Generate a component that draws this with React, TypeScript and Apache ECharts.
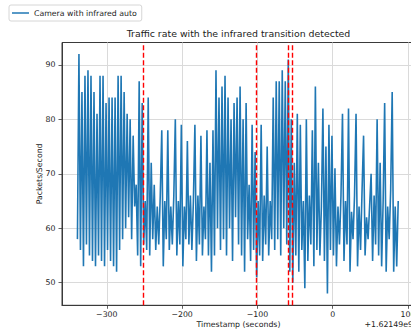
import React, { useEffect, useRef } from "react";
import * as echarts from "echarts";

// Sampling of the capture (seconds relative to the offset shown at the axis end)
const START_TIME = -339;
const STEP = 2;
const TIME_OFFSET_LABEL = "+1.62149e9";

// Packets/second, split by phase of the capture
const dayPhaseStart = [
  58, 92, 56, 85, 53, 88, 57, 89, 55, 88, 54, 85, 53, 81, 55, 88, 54, 88, 53, 83,
  56, 84, 54, 84, 53, 84, 52, 88, 56, 88, 58, 85, 60, 81, 62, 80, 58, 77, 64, 68,
  55, 87, 53,
];
const nightPhaseOne = [
  83, 57, 65, 56, 84, 55, 72, 58, 68, 56, 64, 57, 66, 78, 53, 65, 58, 78, 56, 64,
  57, 66, 80, 55, 65, 57, 79, 53, 64, 58, 76, 57, 66, 56, 65, 79, 54, 66, 57, 77,
  55, 64, 58, 78, 55, 72,
];
const dayPhaseTwo = [
  52, 78, 55, 89, 60, 84, 56, 86, 58, 88, 55, 84, 60, 80, 54, 83, 62, 84, 57, 86,
  55, 80, 52, 83, 58, 68, 54, 79, 56, 74,
];
const nightPhaseTwo = [51, 65, 55, 79, 54, 66, 57, 75, 55, 65];
const dayPhaseThree = [58, 84, 56, 87, 58, 87, 55, 89, 60, 87, 57, 91, 52, 80, 50, 72];
const nightPhaseThree = [
  55, 81, 52, 79, 56, 65, 49, 80, 54, 66, 57, 78, 53, 86, 56, 72, 55, 64, 82, 54,
  75, 48, 79, 56, 77, 55, 71, 53, 64, 57, 66, 81, 54, 65, 57, 82, 52, 63, 58, 66,
  81, 53, 64, 56, 67, 77, 55, 62, 58, 64, 70, 54, 66, 57, 80, 55, 72, 53, 65, 83,
  52, 64, 58, 67, 85, 52, 64, 53, 65,
];

// Detected infrared transitions (seconds)
const transitions = [-251, -101.3, -59.3, -54];

const xTickValues = [-300, -200, -100, 0, 100];
const yTickValues = [50, 60, 70, 80, 90];

const SERIES_NAME = "Camera with infrared auto";
const TITLE = "Traffic rate with the infrared transition detected";

const FONT = "DejaVu Sans";
const BLUE = "#1f77b4";
const SPINE = "#3a3a3a";

const packetRate = [
  ...dayPhaseStart,
  ...nightPhaseOne,
  ...dayPhaseTwo,
  ...nightPhaseTwo,
  ...dayPhaseThree,
  ...nightPhaseThree,
];

const fmt = (v: number) => (v < 0 ? "\u2212" + String(-v) : String(v));

export default function App() {
  const ref = useRef<HTMLDivElement>(null);

  useEffect(() => {
    if (!ref.current) return;
    const chart = echarts.init(ref.current, undefined, { renderer: "svg" });

    const points = packetRate.map((v, i) => [START_TIME + i * STEP, v]);

    chart.setOption({
      animation: false,
      backgroundColor: "#ffffff",
      textStyle: { fontFamily: FONT },
      grid: {
        left: 62,
        top: 42.5,
        width: 353,
        height: 262.8,
        show: true,
        borderColor: SPINE,
        borderWidth: 1,
        containLabel: false,
        outerBoundsMode: "none",
      },
      legend: {
        left: 9,
        top: 5,
        icon: "rect",
        itemWidth: 17,
        itemHeight: 1.5,
        padding: [4, 5, 4, 3],
        borderColor: "#cccccc",
        borderWidth: 0.8,
        borderRadius: 2,
        backgroundColor: "#ffffff",
        textStyle: { fontFamily: FONT, fontSize: 7.8, color: "#222" },
        data: [SERIES_NAME],
      },
      xAxis: {
        type: "value",
        min: -359.5,
        max: 109.3,
        name: "Timestamp (seconds)",
        nameLocation: "middle",
        nameGap: 15,
        nameMoveOverlap: false,
        nameTextStyle: { fontFamily: FONT, fontSize: 7.8, color: "#222" },
        axisLine: { show: true, onZero: false, lineStyle: { color: SPINE, width: 1 } },
        axisTick: {
          show: true,
          length: 3.5,
          customValues: xTickValues,
          lineStyle: { color: SPINE, width: 0.8 },
        },
        axisLabel: {
          customValues: xTickValues,
          formatter: (v: number) => fmt(v),
          fontFamily: FONT,
          fontSize: 7.8,
          color: "#222",
          margin: 5,
        },
        splitLine: { show: true, lineStyle: { color: "#dadada", width: 1 } },
      },
      yAxis: {
        type: "value",
        min: 45.85,
        max: 94.1,
        name: "Packets/Second",
        nameLocation: "middle",
        nameGap: 19,
        nameMoveOverlap: false,
        nameTextStyle: { fontFamily: FONT, fontSize: 7.8, color: "#222" },
        axisLine: { show: true, onZero: false, lineStyle: { color: SPINE, width: 1 } },
        axisTick: {
          show: true,
          length: 3.5,
          customValues: yTickValues,
          lineStyle: { color: SPINE, width: 0.8 },
        },
        axisLabel: {
          customValues: yTickValues,
          formatter: (v: number) => fmt(v),
          fontFamily: FONT,
          fontSize: 7.8,
          color: "#222",
          margin: 6.5,
        },
        splitLine: { show: true, lineStyle: { color: "#dadada", width: 1 } },
      },
      graphic: [
        {
          type: "text",
          x: 238.5,
          y: 33.5,
          style: {
            text: TITLE,
            fontFamily: FONT,
            fontSize: 9.4,
            fill: "#222",
            align: "center",
            verticalAlign: "middle",
          },
        },
        {
          type: "text",
          x: 413,
          y: 324,
          style: {
            text: TIME_OFFSET_LABEL,
            fontFamily: FONT,
            fontSize: 7.8,
            fill: "#222",
            align: "right",
            verticalAlign: "middle",
          },
        },
      ],
      series: [
        {
          name: SERIES_NAME,
          type: "line",
          data: points,
          symbol: "none",
          showSymbol: false,
          color: BLUE,
          lineStyle: { color: BLUE, width: 1.6 },
          markLine: {
            silent: true,
            symbol: ["none", "none"],
            label: { show: false },
            lineStyle: { color: "#ff0000", type: [5, 2.5], width: 1.4 },
            data: transitions.map((t) => ({ xAxis: t })),
          },
        },
      ],
    });

    return () => chart.dispose();
  }, []);

  return (
    <div
      ref={ref}
      style={{ position: "fixed", left: 0, top: 0, width: 411, height: 329 }}
    />
  );
}
